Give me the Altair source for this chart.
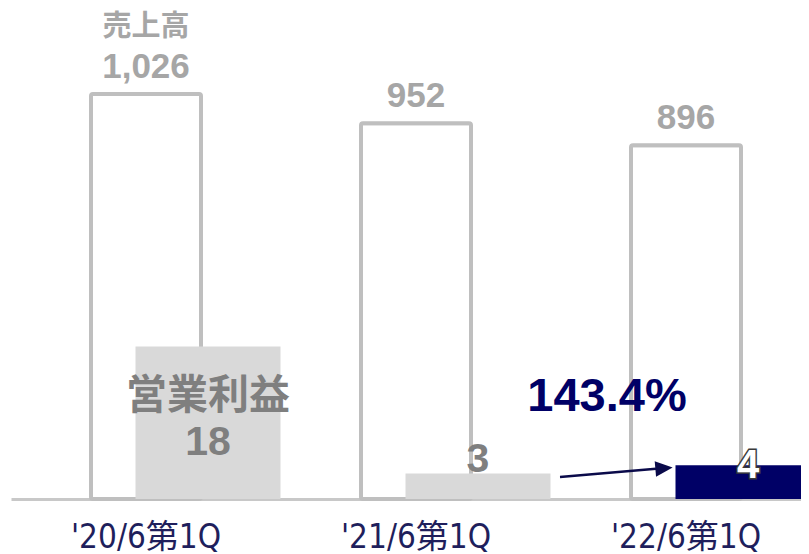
import altair as alt
import pandas as pd

categories = ["'20/6第1Q", "'21/6第1Q", "'22/6第1Q"]
revenue = [1026, 952, 896]
revenue_text = ["1,026", "952", "896"]
op_profit = [18, 3, 4]
op_text = ["18", "3", "4"]
growth_text = "143.4%"
rev_title = "売上高"
op_title = "営業利益"

df = pd.DataFrame({
    "cat": categories,
    "rev": revenue,
    "rev_t": revenue_text,
    "op": op_profit,
    "op_t": op_text,
    "idx": [0, 1, 2],
})
arrow_df = pd.DataFrame({
    "cat": [categories[1]], "c2": [categories[2]],
    "v1": [op_profit[1]], "v2": [op_profit[2]],
    "t": [growth_text],
})

FONT = "Liberation Sans, Noto Sans CJK JP"
NAVY = "#000066"

xscale = alt.Scale(domain=categories, range=[3, 813], paddingInner=0, paddingOuter=0)
yrev = alt.Scale(domain=[0, 1244], nice=False, zero=True)
yop = alt.Scale(domain=[0, 58], nice=False, zero=True)

xaxis = alt.Axis(title=None, ticks=False, labelAngle=0,
                 labelFont="DejaVu Sans Condensed, Noto Sans CJK JP",
                 labelFontSize=33, labelColor="#1f1f5c", labelPadding=22,
                 domainColor="#c8c8c8", domainWidth=3)


def X(field="cat"):
    return alt.X(f"{field}:N", scale=xscale, sort=categories, axis=xaxis)


base = alt.Chart(df)

rev_bars = base.mark_bar(size=110, fill="white", stroke="#bfbfbf", strokeWidth=4,
                         cornerRadius=2).encode(
    x=X(), y=alt.Y("rev:Q", scale=yrev, axis=None))

rev_lbl = base.mark_text(font=FONT, fontSize=35, fontWeight="bold", color="#a6a6a6",
                         baseline="alphabetic", dy=-16).encode(
    x=X(), y=alt.Y("rev:Q", scale=yrev, axis=None), text="rev_t:N")

rev_ttl = base.transform_filter("datum.idx == 0").mark_text(
    font=FONT, fontSize=29, fontWeight="bold", color="#a6a6a6",
    baseline="alphabetic", dy=-58).encode(
    x=X(), y=alt.Y("rev:Q", scale=yrev, axis=None), text=alt.value(rev_title))

op_bars = base.mark_bar(size=145, xOffset=62).encode(
    x=X(), y=alt.Y("op:Q", scale=yop, axis=None),
    color=alt.condition("datum.idx == 2", alt.value(NAVY), alt.value("#d9d9d9")))

op_ttl = base.transform_filter("datum.idx == 0").mark_text(
    font=FONT, fontSize=41, fontWeight="bold", color="#7f7f7f",
    baseline="alphabetic", xOffset=62, dy=62).encode(
    x=X(), y=alt.Y("op:Q", scale=yop, axis=None), text=alt.value(op_title))

op_lbl0 = base.transform_filter("datum.idx == 0").mark_text(
    font=FONT, fontSize=41, fontWeight="bold", color="#7f7f7f",
    baseline="alphabetic", xOffset=62, dy=108).encode(
    x=X(), y=alt.Y("op:Q", scale=yop, axis=None), text="op_t:N")

op_lbl1 = base.transform_filter("datum.idx == 1").mark_text(
    font=FONT, fontSize=41, fontWeight="bold", color="#7f7f7f",
    baseline="alphabetic", xOffset=62, dy=-2).encode(
    x=X(), y=alt.Y("op:Q", scale=yop, axis=None), text="op_t:N")

op_lbl2_outline = base.transform_filter("datum.idx == 2").mark_text(
    font=FONT, fontSize=40, fontWeight="bold", fill="white", stroke="#3a3a3a",
    strokeWidth=3, baseline="alphabetic", xOffset=62, dy=13).encode(
    x=X(), y=alt.Y("op:Q", scale=yop, axis=None), text="op_t:N")

op_lbl2 = base.transform_filter("datum.idx == 2").mark_text(
    font=FONT, fontSize=40, fontWeight="bold", fill="white",
    baseline="alphabetic", xOffset=62, dy=13).encode(
    x=X(), y=alt.Y("op:Q", scale=yop, axis=None), text="op_t:N")

abase = alt.Chart(arrow_df)
arrow_line = abase.mark_rule(color="#0a0a4a", strokeWidth=2.5, xOffset=144,
                             x2Offset=-30, yOffset=3.5, y2Offset=3.5).encode(
    x=X("cat"),
    x2="c2:N",
    y=alt.Y("v1:Q", scale=yop, axis=None),
    y2="v2:Q")

arrow_head = abase.mark_point(
    shape="M-1,-0.9L1,0L-1,0.9Z", size=300, filled=True, opacity=1,
    color="#0a0a4a", angle=355, xOffset=-22, yOffset=3).encode(
    x=X("c2"),
    y=alt.Y("v2:Q", scale=yop, axis=None))

growth = abase.mark_text(font=FONT, fontSize=47, fontWeight="bold", color=NAVY,
                         baseline="alphabetic", xOffset=-79, dy=-54).encode(
    x=X("c2"),
    y=alt.Y("v2:Q", scale=yop, axis=None), text="t:N")

rev_layer = alt.layer(rev_bars, rev_lbl, rev_ttl)
op_layer = alt.layer(op_bars, op_ttl, op_lbl0, op_lbl1, op_lbl2_outline, op_lbl2,
                     arrow_line, arrow_head, growth)

chart = alt.layer(rev_layer, op_layer).resolve_scale(y="independent").properties(
    width=793, height=491,
    autosize=alt.AutoSizeParams(type="none"),
    padding={"left": 0, "top": 0, "right": 0, "bottom": 55},
).configure_view(stroke=None)

chart.save("out.html", embed_options={"renderer": "svg", "actions": False})
